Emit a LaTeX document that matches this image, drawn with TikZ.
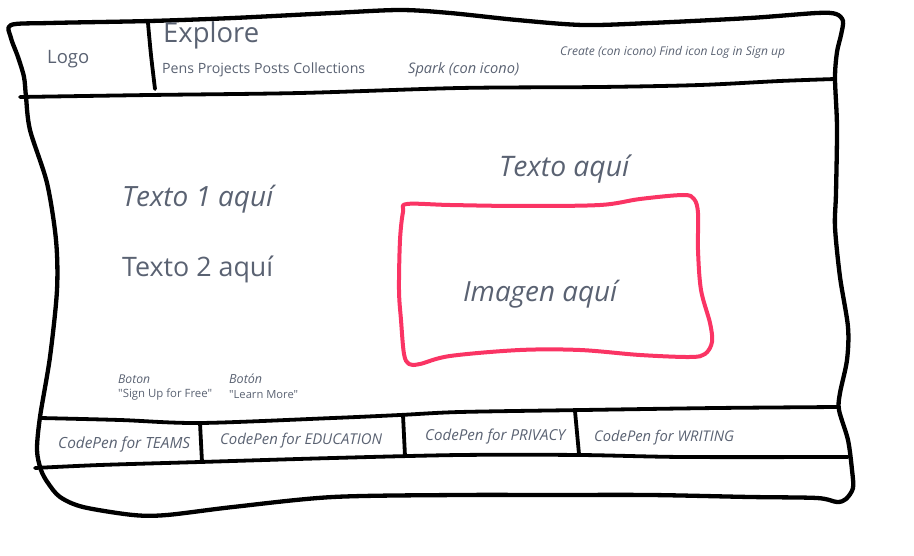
\documentclass[tikz,border=0pt]{standalone}
\usepackage{fontspec}
\setmainfont{Open Sans}[Ligatures=TeXOff]
\usepackage{graphicx}
\definecolor{txtc}{RGB}{90,98,114}
\definecolor{pinkc}{RGB}{250,52,100}
\newcommand\fitw[2]{\resizebox{#1pt}{!}{#2}}
\begin{document}
\begin{tikzpicture}[x=1pt,y=-1pt,
  frame/.style={draw=black, line width=4.3pt, line cap=round, line join=round},
  sep/.style={draw=black, line width=3.8pt, line cap=round, line join=round},
  imgbox/.style={draw=pinkc, line width=4pt, line cap=round, line join=round},
  lbl/.style={text=txtc, inner sep=0pt, anchor=base west, font=\fontsize{20}{24}\selectfont},
  ilbl/.style={lbl, font=\fontsize{20}{24}\selectfont\itshape}]
\useasboundingbox (0,0) rectangle (914,556);
% outer frame
\draw[frame] plot[smooth cycle, tension=0.5] coordinates {
 (11,25) (50,23) (150,21) (233,18) (333,13) (400,10) (450,13) (517,20) (583,25)
 (650,23) (750,18) (817,13) (836,14) (843,21) (841,35) (837,52) (835,78)
 (837,127) (836,193) (835,227) (840,277) (848,327) (847,360) (840,393)
 (839,410) (848,440) (852,470) (853,488) (846,499) (837,502) (817,498)
 (750,497) (650,495) (550,495) (460,495) (333,497) (233,507) (167,515)
 (133,515) (83,507) (60,497) (48,483) (41,470) (37,450) (40,417) (50,357)
 (57,290) (56,240) (47,183) (30,130) (26,97) (24,77) (18,57) (11,38)};
% header line and logo separator
\draw[sep] plot[smooth, tension=0.5] coordinates {(20,97) (150,95) (300,93) (460,88) (600,87) (700,85) (780,81) (835,79)};
\draw[sep] plot[smooth, tension=0.5] coordinates {(148,23) (151,55) (155,89)};
% footer lines
\draw[sep] plot[smooth, tension=0.5] coordinates {(40,418) (120,420) (200,423) (333,418) (400,415) (460,412) (583,410) (717,408) (838,407)};
\draw[sep] plot[smooth, tension=0.5] coordinates {(35,468) (100,465) (200,462) (333,458) (460,455) (580,455) (683,457) (848,457)};
\draw[sep] (200,423) -- (202,462);
\draw[sep] (403,415) -- (405,456);
\draw[sep] (575,411) -- (579,454);
% image box
\draw[imgbox] plot[smooth cycle, tension=0.55] coordinates {
 (407,204) (450,205) (520,206) (600,205) (640,199) (683,195) (694,199) (698,213)
 (698,250) (701,290) (710,323) (712,342) (705,354) (690,357) (640,355) (580,350)
 (520,350) (450,356) (420,364) (409,364) (404,354) (401,320) (399,290) (400,240) (403,212)};
% texts
\node[lbl] (logo) at (47,64) {\fitw{42}{Logo}};
\node[lbl] (explore) at (163,43) {\fitw{96}{Explore}};
\node[lbl] (nav) at (162,74) {\fitw{203}{Pens Projects Posts Collections}};
\node[ilbl] (spark) at (408,74) {\fitw{111}{Spark (con icono)}};
\node[ilbl] (right) at (560,56) {\fitw{225}{Create (con icono) Find icon Log in Sign up}};
\node[ilbl] (t0) at (499,177) {\fitw{130}{Texto aquí}};
\node[ilbl] (t1) at (122,207) {\fitw{151}{Texto 1 aquí}};
\node[lbl] (t2) at (122,277) {\fitw{151}{Texto 2 aquí}};
\node[ilbl] (img) at (463,302) {\fitw{154}{Imagen aquí}};
\node[ilbl] (b1a) at (118,384) {\fitw{32}{Boton}};
\node[lbl] (b1b) at (118,398) {\fitw{94}{"Sign Up for Free"}};
\node[ilbl] (b2a) at (229,384) {\fitw{33}{Botón}};
\node[lbl] (b2b) at (229,398) {\fitw{69}{"Learn More"}};
\node[ilbl] (f1) at (58,449) {\fitw{132}{CodePen for TEAMS}};
\node[ilbl] (f2) at (220,444) {\fitw{162}{CodePen for EDUCATION}};
\node[ilbl] (f3) at (425,440) {\fitw{140}{CodePen for PRIVACY}};
\node[ilbl] (f4) at (594,441) {\fitw{140}{CodePen for WRITING}};
\end{tikzpicture}
\end{document}
